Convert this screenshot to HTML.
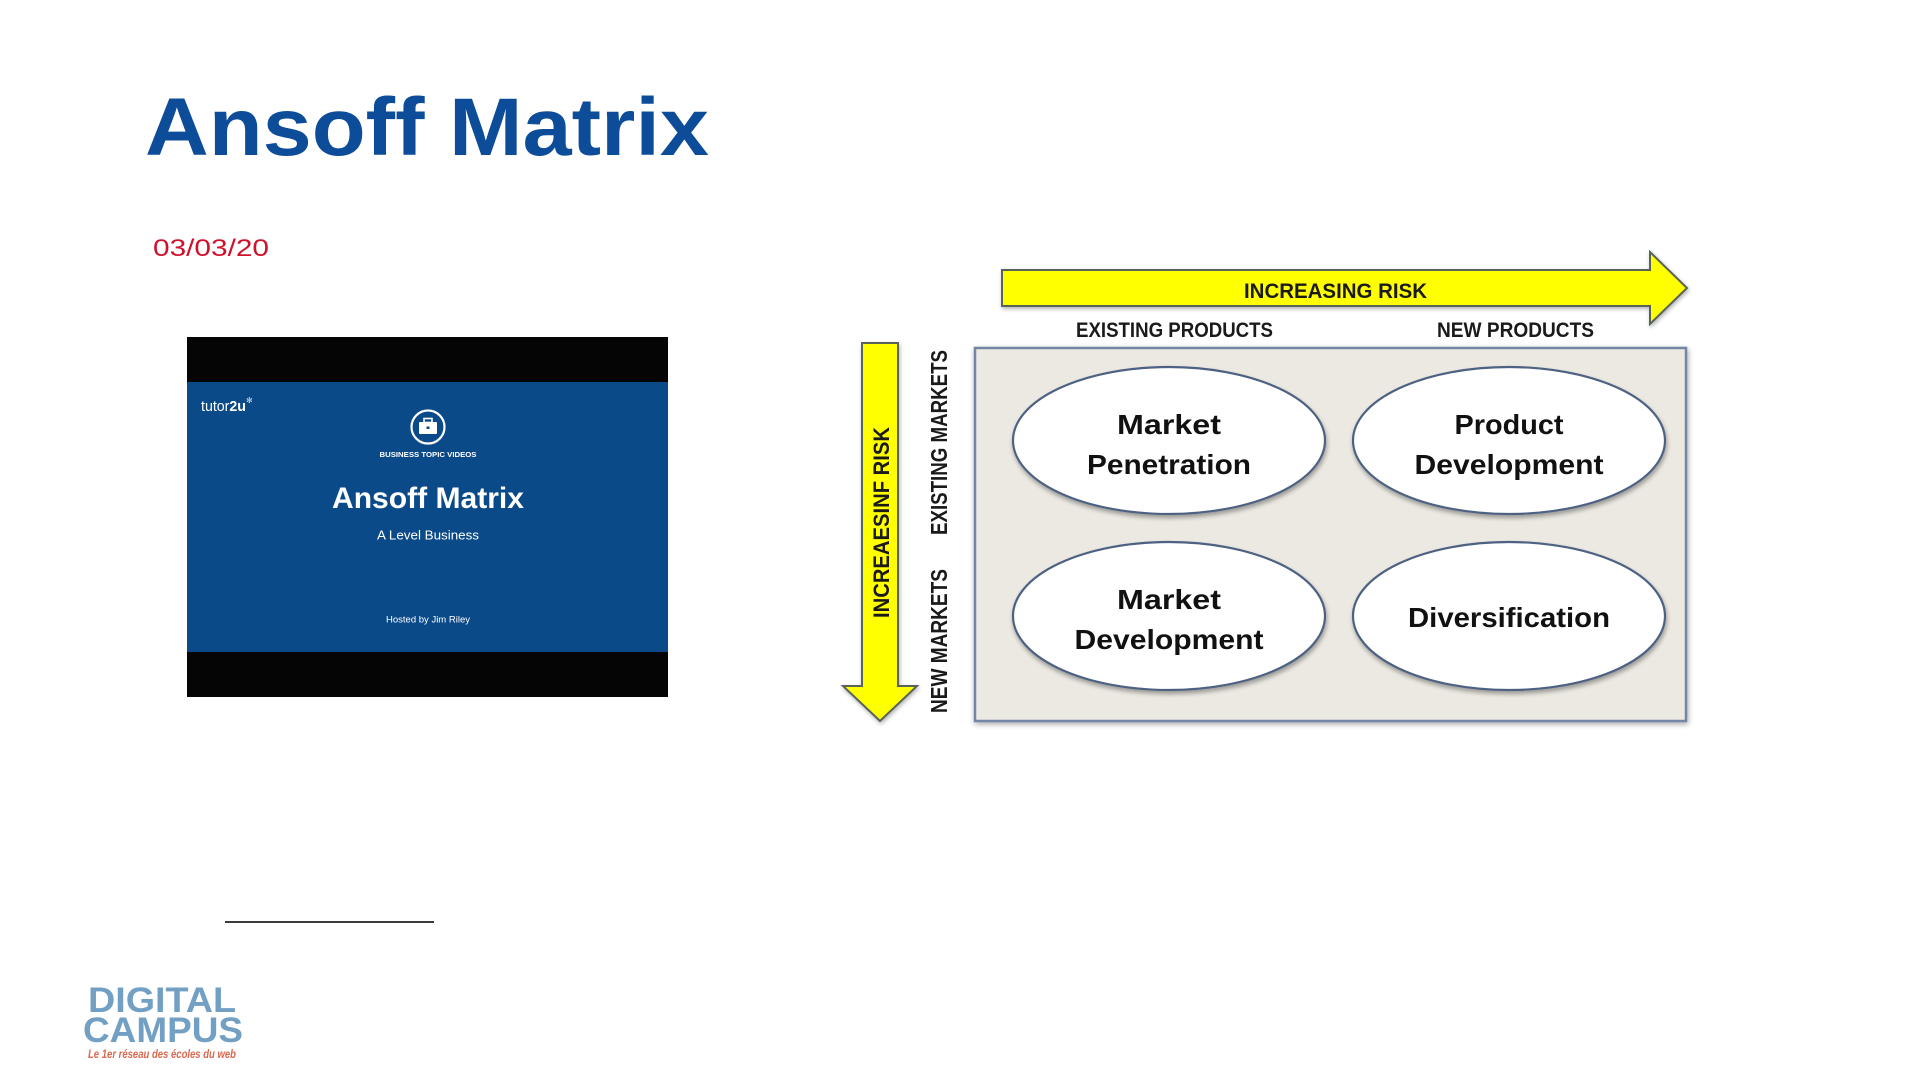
<!DOCTYPE html>
<html>
<head>
<meta charset="utf-8">
<style>
  html, body { margin:0; padding:0; background:#ffffff; }
  body { width:1920px; height:1080px; overflow:hidden; position:relative; }
  svg { position:absolute; left:0; top:0; }
  text { font-family: "Liberation Sans", "DejaVu Sans", sans-serif; }
</style>
</head>
<body>
<svg width="1920" height="1080" viewBox="0 0 1920 1080" xmlns="http://www.w3.org/2000/svg">
  <defs>
    <filter id="boxsh" x="-5%" y="-5%" width="110%" height="110%">
      <feGaussianBlur in="SourceAlpha" stdDeviation="3"/>
      <feOffset dx="1" dy="2" result="b"/>
      <feComponentTransfer><feFuncA type="linear" slope="0.35"/></feComponentTransfer>
      <feMerge><feMergeNode/><feMergeNode in="SourceGraphic"/></feMerge>
    </filter>
    <filter id="ellsh" x="-10%" y="-10%" width="120%" height="130%">
      <feGaussianBlur in="SourceAlpha" stdDeviation="2.5"/>
      <feOffset dx="1" dy="3" result="b"/>
      <feComponentTransfer><feFuncA type="linear" slope="0.35"/></feComponentTransfer>
      <feMerge><feMergeNode/><feMergeNode in="SourceGraphic"/></feMerge>
    </filter>
    <filter id="arrsh" x="-5%" y="-10%" width="110%" height="130%">
      <feGaussianBlur in="SourceAlpha" stdDeviation="2"/>
      <feOffset dx="1" dy="2" result="b"/>
      <feComponentTransfer><feFuncA type="linear" slope="0.3"/></feComponentTransfer>
      <feMerge><feMergeNode/><feMergeNode in="SourceGraphic"/></feMerge>
    </filter>
  </defs>

  <!-- Title -->
  <text x="145" y="155" font-size="82" font-weight="bold" fill="#0c4c98" textLength="564" lengthAdjust="spacingAndGlyphs">Ansoff Matrix</text>
  <!-- Date -->
  <text x="153" y="256" font-size="24" fill="#d0112b" textLength="116" lengthAdjust="spacingAndGlyphs">03/03/20</text>

  <!-- Video thumbnail -->
  <rect x="187" y="337" width="481" height="360" fill="#050505"/>
  <rect x="187" y="382" width="481" height="270" fill="#0b4a89"/>
  <text x="201" y="411" font-size="15" fill="#ffffff" textLength="45" lengthAdjust="spacingAndGlyphs">tutor<tspan font-weight="bold">2u</tspan></text>
  <text x="246" y="403" font-size="8" fill="#cfe0f0" font-family="DejaVu Sans, sans-serif">✻</text>
  <circle cx="428" cy="427" r="16.5" fill="none" stroke="#ffffff" stroke-width="2.2"/>
  <rect x="424" y="418.5" width="8" height="4" fill="none" stroke="#ffffff" stroke-width="1.6"/>
  <rect x="419" y="422" width="18" height="12" rx="1" fill="#ffffff"/>
  <rect x="426.5" y="426.5" width="3" height="2.5" fill="#0b4a89"/>
  <text x="428" y="457" font-size="7.5" font-weight="bold" fill="#ffffff" text-anchor="middle" textLength="97" lengthAdjust="spacingAndGlyphs">BUSINESS TOPIC VIDEOS</text>
  <text x="428" y="508" font-size="30" font-weight="bold" fill="#ffffff" text-anchor="middle" textLength="192" lengthAdjust="spacingAndGlyphs">Ansoff Matrix</text>
  <text x="428" y="539.5" font-size="13" fill="#ffffff" text-anchor="middle" textLength="102" lengthAdjust="spacingAndGlyphs">A Level Business</text>
  <text x="428" y="622.5" font-size="9.5" fill="#ffffff" text-anchor="middle" textLength="84" lengthAdjust="spacingAndGlyphs">Hosted by Jim Riley</text>

  <!-- Separator line -->
  <line x1="225" y1="922" x2="434" y2="922" stroke="#3a3a3a" stroke-width="2"/>

  <!-- Logo -->
  <text x="88" y="1012" font-size="35" font-weight="bold" fill="#72a0c4" textLength="148" lengthAdjust="spacingAndGlyphs">DIGITAL</text>
  <text x="83" y="1042" font-size="35" font-weight="bold" fill="#72a0c4" textLength="160" lengthAdjust="spacingAndGlyphs">CAMPUS</text>
  <text x="88" y="1058" font-size="12" font-style="italic" font-weight="bold" fill="#d9694f" font-family="Liberation Serif, serif" textLength="148" lengthAdjust="spacingAndGlyphs">Le 1er réseau des écoles du web</text>

  <!-- Ansoff diagram -->
  <!-- Top arrow -->
  <polygon points="1002,270 1650,270 1650,252 1687,288 1650,324 1650,306 1002,306" fill="#ffff00" stroke="#59645a" stroke-width="2" stroke-linejoin="miter" filter="url(#arrsh)"/>
  <text x="1244" y="298" font-size="21" font-weight="bold" fill="#1a1a1a" textLength="183" lengthAdjust="spacingAndGlyphs">INCREASING RISK</text>

  <text x="1076" y="337" font-size="21" font-weight="bold" fill="#1a1a1a" textLength="197" lengthAdjust="spacingAndGlyphs">EXISTING PRODUCTS</text>
  <text x="1437" y="337" font-size="21" font-weight="bold" fill="#1a1a1a" textLength="157" lengthAdjust="spacingAndGlyphs">NEW PRODUCTS</text>

  <!-- Left arrow -->
  <polygon points="862,343 898,343 898,686 917,686 880,721 843,686 862,686" fill="#ffff00" stroke="#59645a" stroke-width="2" stroke-linejoin="miter" filter="url(#arrsh)"/>
  <text transform="translate(889,618) rotate(-90)" x="0" y="0" font-size="22" font-weight="bold" fill="#1a1a1a" textLength="191" lengthAdjust="spacingAndGlyphs">INCREAESINF RISK</text>

  <text transform="translate(947,535) rotate(-90)" x="0" y="0" font-size="23" font-weight="bold" fill="#1a1a1a" textLength="185" lengthAdjust="spacingAndGlyphs">EXISTING MARKETS</text>
  <text transform="translate(947,713) rotate(-90)" x="0" y="0" font-size="23" font-weight="bold" fill="#1a1a1a" textLength="144" lengthAdjust="spacingAndGlyphs">NEW MARKETS</text>

  <!-- Box -->
  <rect x="975" y="348" width="711" height="373" fill="#ece9e2" stroke="#7387a5" stroke-width="2.5" filter="url(#boxsh)"/>

  <!-- Ellipses -->
  <ellipse cx="1169" cy="440.5" rx="156" ry="73.5" fill="#ffffff" stroke="#4e6283" stroke-width="2.2" filter="url(#ellsh)"/>
  <ellipse cx="1509" cy="440.5" rx="156" ry="73.5" fill="#ffffff" stroke="#4e6283" stroke-width="2.2" filter="url(#ellsh)"/>
  <ellipse cx="1169" cy="616" rx="156" ry="74" fill="#ffffff" stroke="#4e6283" stroke-width="2.2" filter="url(#ellsh)"/>
  <ellipse cx="1509" cy="616" rx="156" ry="74" fill="#ffffff" stroke="#4e6283" stroke-width="2.2" filter="url(#ellsh)"/>

  <!-- Ellipse labels -->
  <text x="1169" y="434" font-size="28" font-weight="bold" fill="#111111" text-anchor="middle" textLength="104" lengthAdjust="spacingAndGlyphs">Market</text>
  <text x="1169" y="474" font-size="28" font-weight="bold" fill="#111111" text-anchor="middle" textLength="164" lengthAdjust="spacingAndGlyphs">Penetration</text>

  <text x="1509" y="434" font-size="28" font-weight="bold" fill="#111111" text-anchor="middle" textLength="109" lengthAdjust="spacingAndGlyphs">Product</text>
  <text x="1509" y="474" font-size="28" font-weight="bold" fill="#111111" text-anchor="middle" textLength="189" lengthAdjust="spacingAndGlyphs">Development</text>

  <text x="1169" y="609" font-size="28" font-weight="bold" fill="#111111" text-anchor="middle" textLength="104" lengthAdjust="spacingAndGlyphs">Market</text>
  <text x="1169" y="649" font-size="28" font-weight="bold" fill="#111111" text-anchor="middle" textLength="189" lengthAdjust="spacingAndGlyphs">Development</text>

  <text x="1509" y="627" font-size="28" font-weight="bold" fill="#111111" text-anchor="middle" textLength="202" lengthAdjust="spacingAndGlyphs">Diversification</text>
</svg>
</body>
</html>
